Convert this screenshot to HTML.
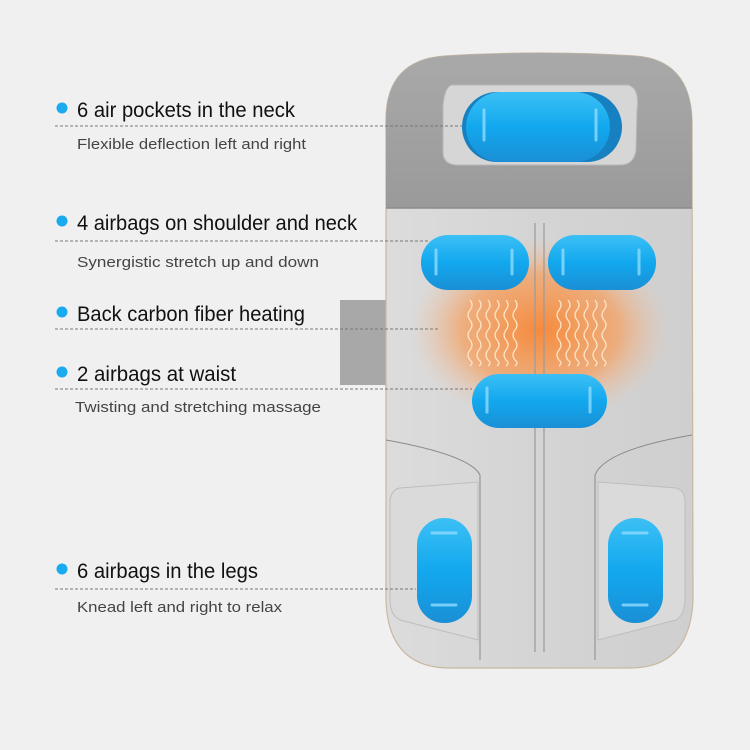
<!DOCTYPE html>
<html><head><style>html,body{margin:0;padding:0;background:#f0f0f0}svg{display:block}</style></head><body>
<svg width="750" height="750" viewBox="0 0 750 750" xmlns="http://www.w3.org/2000/svg" font-family="Liberation Sans, sans-serif">
<defs>
<radialGradient id="glow" cx="0.5" cy="0.5" r="0.5">
<stop offset="0" stop-color="#f68a3c" stop-opacity="1"/>
<stop offset="0.6" stop-color="#f5a060" stop-opacity="0.75"/>
<stop offset="1" stop-color="#f0c0a0" stop-opacity="0"/>
</radialGradient>
<linearGradient id="blue" x1="0" y1="0" x2="0" y2="1">
<stop offset="0" stop-color="#3cc0f5"/><stop offset="0.5" stop-color="#12a8ee"/><stop offset="1" stop-color="#1a8fd6"/>
</linearGradient>
<linearGradient id="gray" x1="0" y1="0" x2="0" y2="1">
<stop offset="0" stop-color="#a9a9a9"/><stop offset="1" stop-color="#9a9a9a"/>
</linearGradient>
<linearGradient id="light" x1="0" y1="0" x2="1" y2="0">
<stop offset="0" stop-color="#dcdcdc"/><stop offset="0.5" stop-color="#d4d4d4"/><stop offset="1" stop-color="#cfcfcf"/>
</linearGradient>
</defs>
<rect width="750" height="750" fill="#f0f0f0"/>
<rect x="340" y="300" width="50" height="85" fill="#a8a8a8"/>
<path d="M386 120 Q386 60 445 56 Q540 50 635 56 Q690 60 692 120 L693 600 Q690 668 630 668 L450 668 Q388 668 386 600 Z" fill="url(#light)" stroke="#c8b8a0" stroke-width="1.2"/>
<path d="M386 120 Q386 60 445 56 Q540 50 635 56 Q690 60 692 120 L692 208 L386 208 Z" fill="url(#gray)"/>
<line x1="386" y1="208" x2="692" y2="208" stroke="#8c8c8c" stroke-width="1.5"/>
<path d="M452 85 L628 85 Q640 88 637 110 L636 150 Q634 165 620 165 L458 165 Q442 165 443 150 L443 105 Q445 86 452 85 Z" fill="#d6d6d6" stroke="#b8b8b8"/>
<ellipse cx="540" cy="330" rx="130" ry="92" fill="url(#glow)"/>
<line x1="535" y1="223" x2="535" y2="652" stroke="#9a9a9a" stroke-width="1.2"/>
<line x1="544" y1="223" x2="544" y2="652" stroke="#9a9a9a" stroke-width="1.2"/>
<path d="M386 440 Q470 455 480 475 L480 660" fill="none" stroke="#8a8a8a" stroke-width="1"/>
<path d="M692 435 Q605 450 595 475 L595 660" fill="none" stroke="#8a8a8a" stroke-width="1"/>
<path d="M400 488 L478 482 L478 640 L400 620 Q390 615 390 600 L390 500 Q392 489 400 488 Z" fill="#dadada" stroke="#bdbdbd"/>
<path d="M598 482 L676 488 Q685 490 685 502 L685 600 Q684 616 676 620 L598 640 Z" fill="#dadada" stroke="#bdbdbd"/>
<rect x="462" y="92" width="160" height="70" rx="35" fill="#1780c0"/>
<rect x="466" y="92" width="144" height="70" rx="35" fill="url(#blue)"/>
<rect x="421" y="235" width="108" height="55" rx="27" fill="url(#blue)"/>
<rect x="548" y="235" width="108" height="55" rx="27" fill="url(#blue)"/>
<rect x="472" y="374" width="135" height="54" rx="27" fill="url(#blue)"/>
<rect x="417" y="518" width="55" height="105" rx="27" fill="url(#blue)"/>
<rect x="608" y="518" width="55" height="105" rx="27" fill="url(#blue)"/>
<g stroke="#8fdcff" stroke-width="3" stroke-linecap="round" opacity="0.8">
<line x1="484" y1="110" x2="484" y2="140"/><line x1="596" y1="110" x2="596" y2="140"/>
<line x1="436" y1="250" x2="436" y2="274"/><line x1="512" y1="250" x2="512" y2="274"/>
<line x1="563" y1="250" x2="563" y2="274"/><line x1="639" y1="250" x2="639" y2="274"/>
<line x1="487" y1="388" x2="487" y2="412"/><line x1="590" y1="388" x2="590" y2="412"/>
<line x1="432" y1="533" x2="456" y2="533"/><line x1="432" y1="605" x2="456" y2="605"/>
<line x1="623" y1="533" x2="647" y2="533"/><line x1="623" y1="605" x2="647" y2="605"/>
</g>
<g fill="none" stroke="#fde3c4" stroke-width="1.3">
<path id="w" d="M470 300 q4 5 0 10 q-4 5 0 10 q4 5 0 10 q-4 5 0 10 q4 5 0 10 q-4 5 0 10 q4 3 0 6"/>
<use href="#w" x="9"/><use href="#w" x="18"/><use href="#w" x="27"/><use href="#w" x="36"/><use href="#w" x="45"/>
<use href="#w" x="89"/><use href="#w" x="98"/><use href="#w" x="107"/><use href="#w" x="116"/><use href="#w" x="125"/><use href="#w" x="134"/>
</g>
<g stroke="#777" stroke-width="1" stroke-dasharray="3,2">
<line x1="55" y1="126" x2="462" y2="126"/>
<line x1="55" y1="241" x2="430" y2="241"/>
<line x1="55" y1="329" x2="440" y2="329"/>
<line x1="55" y1="389" x2="472" y2="389"/>
<line x1="55" y1="589" x2="416" y2="589"/>
</g>
<g fill="#19aaf0">
<circle cx="62" cy="108" r="5.5"/><circle cx="62" cy="221" r="5.5"/><circle cx="62" cy="312" r="5.5"/><circle cx="62" cy="372" r="5.5"/><circle cx="62" cy="569" r="5.5"/>
</g>
<g font-size="21" fill="#111">
<text x="77" y="117" textLength="218" lengthAdjust="spacingAndGlyphs">6 air pockets in the neck</text>
<text x="77" y="230" textLength="280" lengthAdjust="spacingAndGlyphs">4 airbags on shoulder and neck</text>
<text x="77" y="321" textLength="228" lengthAdjust="spacingAndGlyphs">Back carbon fiber heating</text>
<text x="77" y="381" textLength="159" lengthAdjust="spacingAndGlyphs">2 airbags at waist</text>
<text x="77" y="578" textLength="181" lengthAdjust="spacingAndGlyphs">6 airbags in the legs</text>
</g>
<g font-size="15" fill="#444">
<text x="77" y="149" textLength="229" lengthAdjust="spacingAndGlyphs">Flexible deflection left and right</text>
<text x="77" y="267" textLength="242" lengthAdjust="spacingAndGlyphs">Synergistic stretch up and down</text>
<text x="75" y="412" textLength="246" lengthAdjust="spacingAndGlyphs">Twisting and stretching massage</text>
<text x="77" y="612" textLength="205" lengthAdjust="spacingAndGlyphs">Knead left and right to relax</text>
</g>
</svg>
</body></html>
